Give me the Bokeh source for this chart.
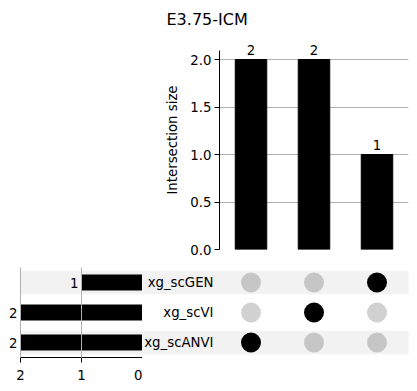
from bokeh.plotting import figure
from bokeh.layouts import column, row
from bokeh.models import (Range1d, FactorRange, ColumnDataSource, LabelSet,
                          FixedTicker, Title)
from bokeh.core.properties import value
from bokeh.embed import file_html
from bokeh.resources import INLINE

# ---------------- data ----------------
title_text = "E3.75-ICM"
categories = ["xg_scGEN", "xg_scVI", "xg_scANVI"]        # top to bottom
category_totals = [1, 2, 2]
shaded_categories = ["xg_scGEN", "xg_scANVI"]
intersection_members = ["xg_scANVI", "xg_scVI", "xg_scGEN"]  # one member each
intersection_sizes = [2, 2, 1]
y_ticks_top = [0.0, 0.5, 1.0, 1.5, 2.0]
totals_ticks = [2, 1, 0]

# ---------------- style ----------------
FONT = "DejaVu Sans"
FS = "13.3px"
GRID = "#b0b0b0"
BAND = "#f2f2f2"

n_int = len(intersection_sizes)
xs = list(range(n_int))
x_lo, x_hi = -0.5, n_int - 0.5

# ---------------- top: intersection sizes ----------------
TOP_PX = 95.0            # px per unit on the intersection axis
TOP_FRAME_H = 219
y_axis_end = 2.1
top = figure(width=409, height=258, output_backend="svg", toolbar_location=None,
             x_range=Range1d(x_lo, x_hi), y_range=Range1d(0, TOP_FRAME_H / TOP_PX),
             x_axis_location=None, min_border_left=219, min_border_right=1,
             min_border_top=30, min_border_bottom=9)
top.outline_line_color = None
top.title = Title(text=title_text, align="left", offset=-53, standoff=4,
                  text_font=FONT, text_font_size="16px", text_font_style="normal",
                  text_color="black")
top.vbar(x=xs, top=intersection_sizes, width=0.5, color="black")
ya = top.yaxis[0]
ya.bounds = (0, y_axis_end)
ya.ticker = FixedTicker(ticks=y_ticks_top)
ya.major_label_overrides = {v: f"{v:.1f}" for v in y_ticks_top}
ya.axis_label = "Intersection size"
ya.axis_label_text_font = FONT
ya.axis_label_text_font_size = FS
ya.axis_label_text_font_style = "normal"
ya.axis_label_text_color = "black"
ya.axis_label_standoff = 7
ya.major_label_text_font = FONT
ya.major_label_text_font_size = FS
ya.major_label_text_color = "black"
ya.major_tick_out = 5
ya.major_tick_in = 0
ya.minor_tick_out = 0
ya.minor_tick_in = 0
ya.major_label_standoff = 3
ya.axis_line_color = "black"
ya.major_tick_line_color = "black"
top.xgrid.visible = False
top.ygrid.ticker = FixedTicker(ticks=[t for t in y_ticks_top if t > 0])
top.ygrid.grid_line_color = GRID
top.add_layout(LabelSet(source=ColumnDataSource(dict(
    x=xs, y=intersection_sizes, t=[str(v) for v in intersection_sizes])),
    x="x", y="y", text="t", text_align="center", text_baseline="alphabetic",
    y_offset=5, text_font=value(FONT), text_font_size=value(FS),
    text_color="black"))

# ---------------- shared row range ----------------
yr = FactorRange(factors=list(reversed(categories)), range_padding=0)

# ---------------- totals ----------------
TOT_PX = 61.0
tot_w, tot_border_left = 142, 4
tot_x = Range1d((tot_w - tot_border_left) / TOT_PX, 0)
tot = figure(width=tot_w, height=129, output_backend="svg", toolbar_location=None,
             x_range=tot_x, y_range=yr, y_axis_location=None,
             min_border_left=tot_border_left, min_border_right=0, min_border_top=9,
             min_border_bottom=30)
tot.outline_line_color = None
max_total = max(totals_ticks)
band_t = tot.hbar(y=shaded_categories, left=max_total, right=0,
                  height=0.75, color=BAND)
band_t.level = "image"
tot.hbar(y=categories, left=0, right=category_totals, height=0.5, color="black")
xa = tot.xaxis[0]
xa.bounds = (0, max_total)
xa.ticker = FixedTicker(ticks=totals_ticks)
xa.major_label_text_font = FONT
xa.major_label_text_font_size = FS
xa.major_label_text_color = "black"
xa.major_tick_out = 5
xa.major_tick_in = 0
xa.minor_tick_out = 0
xa.minor_tick_in = 0
xa.major_label_standoff = 7
xa.axis_line_color = "black"
tot.ygrid.visible = False
tot.xgrid.ticker = FixedTicker(ticks=[t for t in totals_ticks if t > 0])
tot.xgrid.grid_line_color = GRID
tot.xgrid.level = "annotation"
tot.add_layout(LabelSet(source=ColumnDataSource(dict(
    x=category_totals, y=categories, t=[str(v) for v in category_totals])),
    x="x", y="y", text="t", text_align="right", text_baseline="middle",
    x_offset=-3, text_font=value(FONT), text_font_size=value(FS),
    text_color="black"))

# ---------------- matrix ----------------
px_per_unit = 189 / (x_hi - x_lo)
label_space = 77
mat_x = Range1d(x_lo - label_space / px_per_unit, x_hi)
mat = figure(width=267, height=129, output_backend="svg", toolbar_location=None,
             x_range=mat_x, y_range=yr, x_axis_location=None, y_axis_location=None,
             min_border_left=0, min_border_right=1, min_border_top=9,
             min_border_bottom=30)
mat.outline_line_color = None
mat.grid.visible = False
band_m = mat.hbar(y=shaded_categories, left=mat_x.start, right=mat_x.end,
                  height=0.75, color=BAND)
band_m.level = "image"

dot_x, dot_y, dot_alpha = [], [], []
for i, member in enumerate(intersection_members):
    for c in categories:
        dot_x.append(xs[i])
        dot_y.append(c)
        dot_alpha.append(1.0 if c == member else 0.18)
mat.scatter(x=dot_x, y=dot_y, size=20, fill_color="black", fill_alpha=dot_alpha,
            line_color=None)
mat.text(x=[x_lo] * len(categories), y=categories, text=categories,
         text_align="right", text_baseline="middle", x_offset=-6,
         text_font=value(FONT), text_font_size=value(FS), text_color="black")

layout = column(top, row(tot, mat))
open("out.html", "w").write(file_html(layout, INLINE))
